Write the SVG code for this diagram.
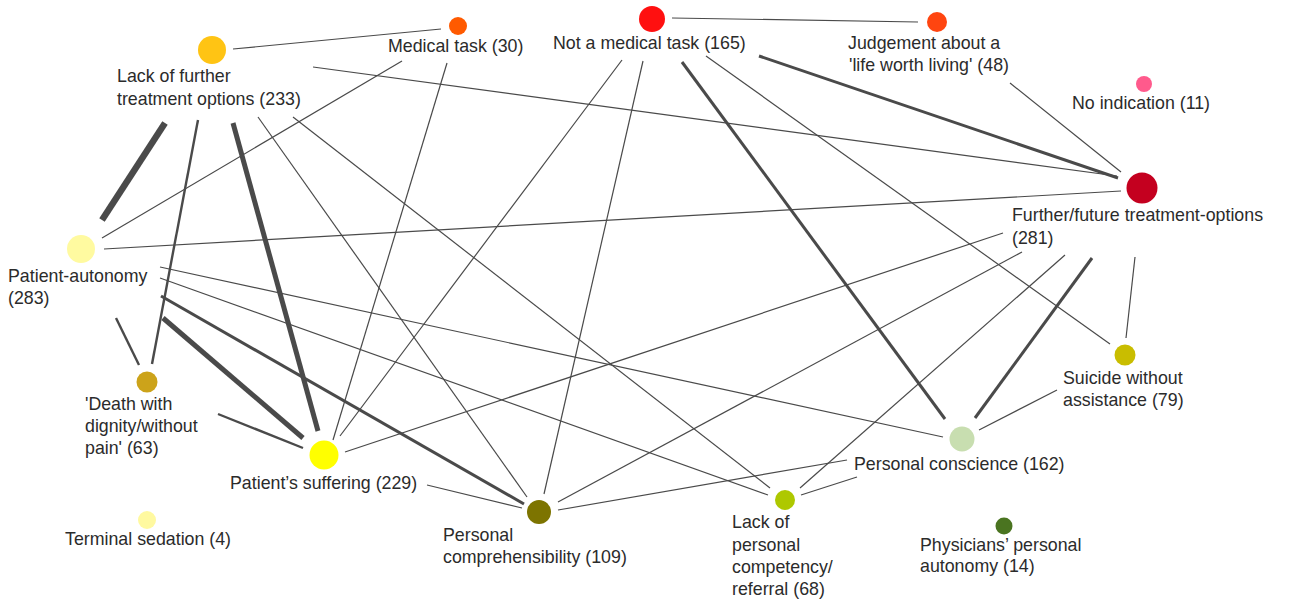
<svg xmlns="http://www.w3.org/2000/svg" width="1289" height="601" viewBox="0 0 1289 601">
<style>
text{font-family:"Liberation Sans",Arial,sans-serif;font-size:17.8px;fill:#2b2b2b}
.e{stroke:#4a4a4a;stroke-width:1.2;fill:none}
.m{stroke-width:2.4}
.t{stroke-width:3}
.k{stroke-width:5}
.x{stroke-width:6.5}
</style>
<rect width="1289" height="601" fill="#fff"/>
<g id="connectors">
<line class="e" x1="233" y1="49" x2="441" y2="29"/>
<line class="e" x1="313" y1="67" x2="1117" y2="176"/>
<line class="e" x1="402" y1="61" x2="102" y2="238"/>
<line class="e" x1="447" y1="63" x2="333" y2="440"/>
<line class="e" x1="672" y1="18" x2="918" y2="22"/>
<line class="e" x1="622" y1="60" x2="340" y2="436"/>
<line class="e" x1="643" y1="61" x2="544" y2="494"/>
<line class="e t" x1="682" y1="62" x2="945" y2="419"/>
<line class="e" x1="706" y1="56" x2="1110" y2="344"/>
<line class="e t" x1="759" y1="56" x2="1118" y2="178"/>
<line class="e" x1="1010" y1="83" x2="1121" y2="172"/>
<line class="e" x1="104" y1="249" x2="1121" y2="191"/>
<line class="e x" x1="165" y1="123" x2="102" y2="220"/>
<line class="e m" x1="198" y1="120" x2="152" y2="364"/>
<line class="e k" x1="233" y1="123" x2="318" y2="431"/>
<line class="e" x1="258" y1="117" x2="527" y2="497"/>
<line class="e" x1="293" y1="117" x2="770" y2="488"/>
<line class="e" x1="160" y1="267" x2="943" y2="437"/>
<line class="e" x1="160" y1="278" x2="768" y2="495"/>
<line class="e t" x1="161" y1="296" x2="524" y2="504"/>
<line class="e m" x1="116" y1="318" x2="139" y2="365"/>
<line class="e k" x1="163" y1="318" x2="303" y2="438"/>
<line class="e m" x1="218" y1="414" x2="303" y2="448"/>
<line class="e" x1="427" y1="485" x2="522" y2="508"/>
<line class="e" x1="345" y1="452" x2="1003" y2="233"/>
<line class="e" x1="558" y1="502" x2="1022" y2="252"/>
<line class="e" x1="558" y1="510" x2="847" y2="460"/>
<line class="e" x1="800" y1="488" x2="1065" y2="255"/>
<line class="e" x1="801" y1="495" x2="857" y2="477"/>
<line class="e t" x1="975" y1="418" x2="1092" y2="258"/>
<line class="e" x1="979" y1="430" x2="1057" y2="390"/>
<line class="e" x1="1135" y1="257" x2="1126" y2="338"/>
</g>
<g id="n-lack-further"><circle cx="212" cy="50" r="14" fill="#ffc414"/><text x="117" y="82">Lack of further</text><text x="117" y="105">treatment options (233)</text></g>
<g id="n-medical-task"><circle cx="458" cy="26" r="9" fill="#ff5a00"/><text x="388" y="52">Medical task (30)</text></g>
<g id="n-not-medical"><circle cx="652" cy="19" r="13" fill="#ff1010"/><text x="553" y="49">Not a medical task (165)</text></g>
<g id="n-judgement"><circle cx="937" cy="22" r="10" fill="#ff4510"/><text x="848" y="49">Judgement about a</text><text x="849" y="71">'life worth living' (48)</text></g>
<g id="n-no-indication"><circle cx="1144" cy="84" r="8" fill="#ff5a8c"/><text x="1072" y="109">No indication (11)</text></g>
<g id="n-further-future"><circle cx="1142" cy="188" r="15.5" fill="#c4001f"/><text x="1012" y="221">Further/future treatment-options</text><text x="1012" y="244">(281)</text></g>
<g id="n-patient-autonomy"><circle cx="81" cy="249" r="14" fill="#fffaa0"/><text x="8" y="282">Patient-autonomy</text><text x="8" y="304">(283)</text></g>
<g id="n-death-dignity"><circle cx="147" cy="382" r="10.5" fill="#cca31a"/><text x="85" y="410">'Death with</text><text x="85" y="432">dignity/without</text><text x="85" y="454">pain' (63)</text></g>
<g id="n-patients-suffering"><circle cx="324" cy="455" r="14.5" fill="#ffff00"/><text x="230" y="489">Patient’s suffering (229)</text></g>
<g id="n-terminal-sedation"><circle cx="147" cy="520" r="9" fill="#fff9a0"/><text x="65" y="545">Terminal sedation (4)</text></g>
<g id="n-personal-comprehensibility"><circle cx="539" cy="512" r="12" fill="#7d7400"/><text x="443" y="541">Personal</text><text x="443" y="563">comprehensibility (109)</text></g>
<g id="n-lack-competency"><circle cx="785" cy="500" r="10" fill="#aec800"/><text x="732" y="528">Lack of</text><text x="732" y="551">personal</text><text x="732" y="573">competency/</text><text x="732" y="595">referral (68)</text></g>
<g id="n-personal-conscience"><circle cx="962" cy="439" r="12.5" fill="#c8deb0"/><text x="854" y="470">Personal conscience (162)</text></g>
<g id="n-physicians-autonomy"><circle cx="1004" cy="526" r="8.5" fill="#4a7420"/><text x="920" y="551">Physicians’ personal</text><text x="920" y="572">autonomy (14)</text></g>
<g id="n-suicide"><circle cx="1125" cy="355" r="10.5" fill="#c9bd00"/><text x="1063" y="384">Suicide without</text><text x="1063" y="406">assistance (79)</text></g>
</svg>
